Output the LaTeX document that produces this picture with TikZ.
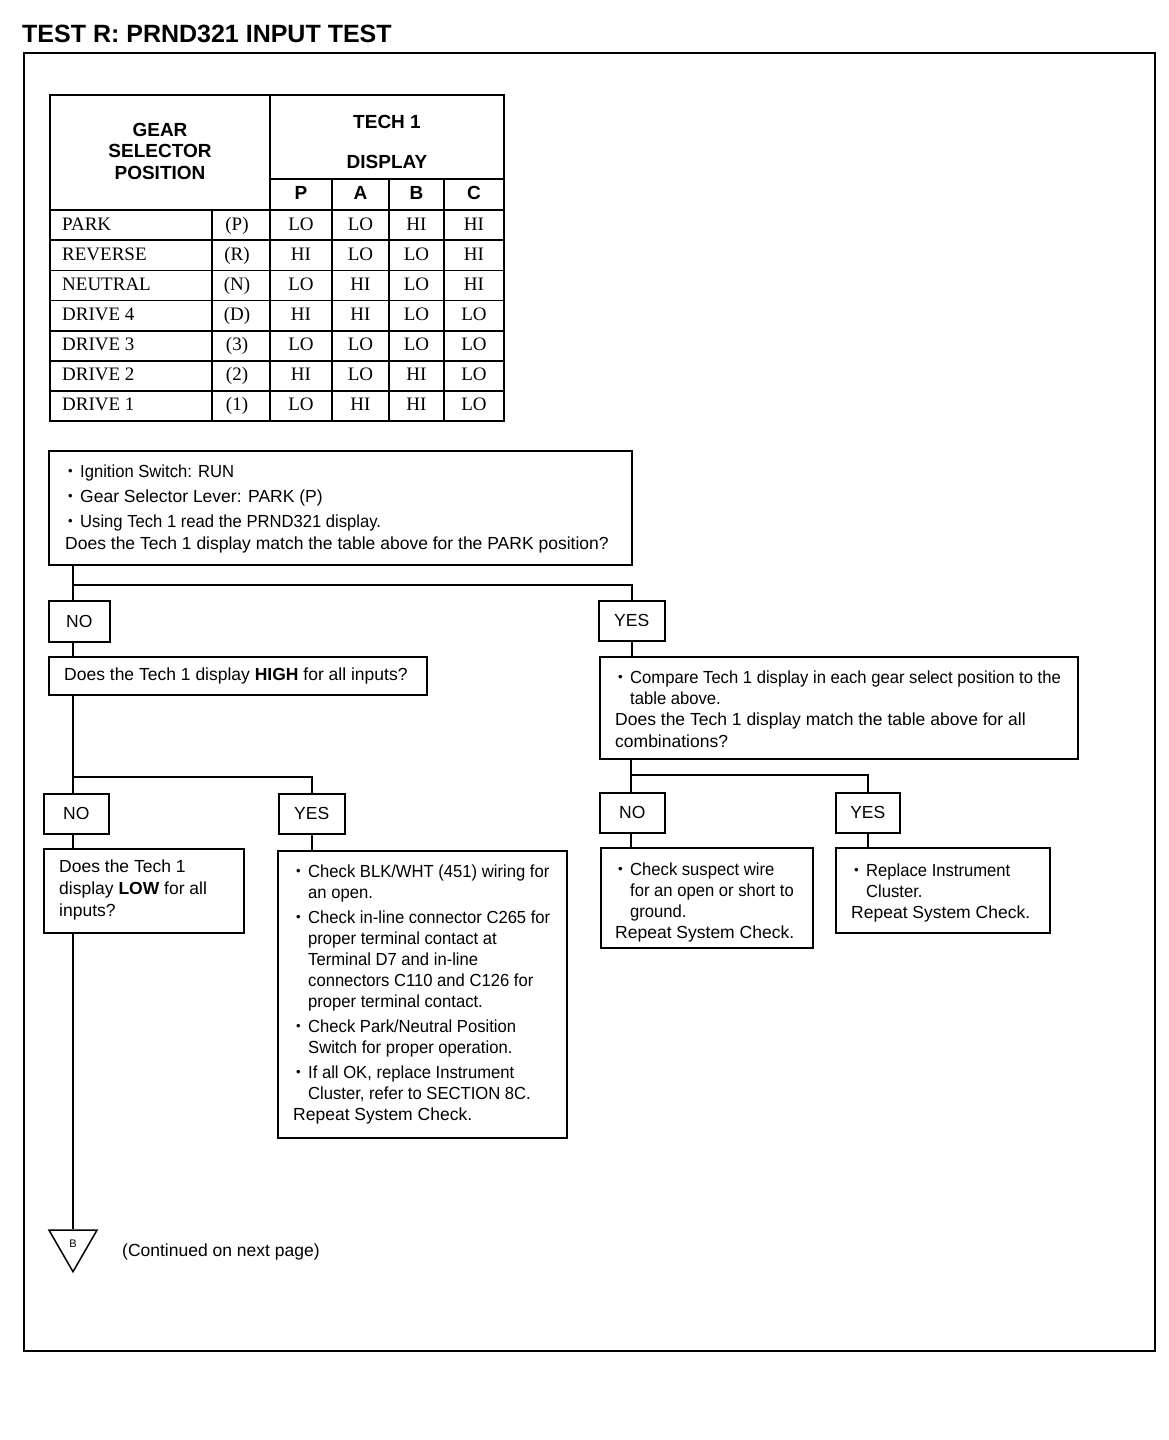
\documentclass[tikz,border=0pt]{standalone}
\usepackage{fontspec}
\setmainfont{Liberation Sans}
\newfontfamily\seriffont{Liberation Serif}
\usetikzlibrary{shapes.geometric}
\newcommand\mybul{\hspace*{3pt}\makebox[12pt][l]{\raisebox{1.5pt}{\scalebox{0.75}{\textbullet}}}}
\newcommand\hind{\hspace*{15pt}}
\newcommand\smtxt[1]{\scalebox{0.95}[1]{#1}}
\begin{document}
\begin{tikzpicture}[x=1pt,y=-1pt,
  box/.style={draw, line width=1.5pt, fill=white, inner sep=0pt, anchor=north west},
  lbl/.style={box, font=\fontsize{17.5}{21}\selectfont},
  txt/.style={anchor=north west, inner sep=0pt, align=left, font=\fontsize{17.5}{21}\selectfont},
  conn/.style={line width=1.5pt},
  cell/.style={anchor=base, inner sep=0pt, font=\seriffont\fontsize{19}{21}\selectfont},
  hdr/.style={anchor=base, inner sep=0pt, font=\bfseries\fontsize{19}{21}\selectfont},
  tline/.style={line width=1.5pt}]
\useasboundingbox (0,0) rectangle (1168,1440);
\fill[white] (0,0) rectangle (1168,1440);

% title and frame
\node[anchor=base west, inner sep=0pt, font=\bfseries\fontsize{25}{28}\selectfont] (title) at (22,42) {TEST R: PRND321 INPUT TEST};
\draw[line width=1.6pt] (24,53) rectangle (1155,1351);

% table
\draw[tline] (50,95) rectangle (504,421);
\draw[tline] (270,95) -- (270,421);
\draw[tline] (212,210) -- (212,421);
\draw[tline] (270,179) -- (504,179);
\foreach \x in {332,389,444} \draw[tline] (\x,179) -- (\x,421);
\foreach \y in {210,240,270.5,300.5,331,361,391} \draw[tline] (50,\y) -- (504,\y);
\node[hdr] (h1) at (160,136) {GEAR};
\node[hdr] (h2) at (160,157.7) {SELECTOR};
\node[hdr] (h3) at (160,179) {POSITION};
\node[hdr] (h4) at (387,128) {TECH 1};
\node[hdr] (h5) at (387,168) {DISPLAY};
\node[hdr] (cp) at (301,199) {P};
\node[hdr] (ca) at (360.5,199) {A};
\node[hdr] (cb) at (416.5,199) {B};
\node[hdr] (cc) at (474,199) {C};
\foreach \lab/\pp/\va/\vb/\vc/\vd [count=\i] in {
  PARK/(P)/LO/LO/HI/HI,
  REVERSE/(R)/HI/LO/LO/HI,
  NEUTRAL/(N)/LO/HI/LO/HI,
  DRIVE 4/(D)/HI/HI/LO/LO,
  DRIVE 3/(3)/LO/LO/LO/LO,
  DRIVE 2/(2)/HI/LO/HI/LO,
  DRIVE 1/(1)/LO/HI/HI/LO}{
  \pgfmathsetmacro\yy{230+30.1*(\i-1)}
  \node[cell, anchor=base west] (rl\i) at (62,\yy) {\lab};
  \node[cell] (rp\i) at (237,\yy) {\pp};
  \node[cell] (ra\i) at (301,\yy) {\va};
  \node[cell] (rb\i) at (360.5,\yy) {\vb};
  \node[cell] (rc\i) at (416.5,\yy) {\vc};
  \node[cell] (rd\i) at (474,\yy) {\vd};
}

% boxes
\node[box, minimum width=583pt, minimum height=114pt] (q1) at (48,450) {};
\node[txt] (tq1) at (65,464.5) {\mybul\smtxt{Ignition Switch: RUN}\\[4pt]
\mybul Gear Selector Lever: PARK (P)\\[4pt]
\mybul\smtxt{Using Tech 1 read the PRND321 display.}\\[1pt]
Does the Tech 1 display match the table above for the PARK position?};

\node[lbl, minimum width=61pt, minimum height=41pt] (no1) at (48,600) {NO};
\node[lbl, minimum width=66pt, minimum height=40pt] (yes1) at (598,600) {YES};

\node[box, minimum width=378pt, minimum height=38pt] (high) at (48,656) {};
\node[txt] (thigh) at (64,667.5) {Does the Tech 1 display \textbf{HIGH} for all inputs?};

\node[box, minimum width=478pt, minimum height=102pt] (comb) at (599,656) {};
\node[txt] (tcomb) at (615,670.5) {\mybul\smtxt{Compare Tech 1 display in each gear select position to the}\\
\hind\smtxt{table above.}\\
Does the Tech 1 display match the table above for all\\[1pt]
combinations?};

\node[lbl, minimum width=65pt, minimum height=40pt] (no2) at (43,793) {NO};
\node[lbl, minimum width=66pt, minimum height=40pt] (yes2) at (278,793) {YES};
\node[lbl, minimum width=65pt, minimum height=40pt] (no3) at (599,792) {NO};
\node[lbl, minimum width=64pt, minimum height=40pt] (yes3) at (835,792) {YES};

\node[box, minimum width=200pt, minimum height=84pt] (low) at (43,848) {};
\node[txt] (tlow) at (59,859.5) {Does the Tech 1\\[1pt] display \textbf{LOW} for all\\[1pt] inputs?};

\node[box, minimum width=289pt, minimum height=287pt] (big) at (277,850) {};
\node[txt] (tbig) at (293,864.5) {\mybul\smtxt{Check BLK/WHT (451) wiring for}\\
\hind\smtxt{an open.}\\[4pt]
\mybul\smtxt{Check in-line connector C265 for}\\
\hind\smtxt{proper terminal contact at}\\
\hind\smtxt{Terminal D7 and in-line}\\
\hind\smtxt{connectors C110 and C126 for}\\
\hind\smtxt{proper terminal contact.}\\[4pt]
\mybul\smtxt{Check Park/Neutral Position}\\
\hind\smtxt{Switch for proper operation.}\\[4pt]
\mybul\smtxt{If all OK, replace Instrument}\\
\hind\smtxt{Cluster, refer to SECTION 8C.}\\
Repeat System Check.};

\node[box, minimum width=212pt, minimum height=100pt] (chk) at (600,847) {};
\node[txt] (tchk) at (615,862.5) {\mybul\smtxt{Check suspect wire}\\
\hind\smtxt{for an open or short to}\\
\hind\smtxt{ground.}\\
Repeat System Check.};

\node[box, minimum width=214pt, minimum height=85pt] (rep) at (835,847) {};
\node[txt] (trep) at (851,863.5) {\mybul\smtxt{Replace Instrument}\\
\hind\smtxt{Cluster.}\\
Repeat System Check.};

% off-page connector
\node[draw, line width=1.5pt, fill=white, regular polygon, regular polygon sides=3, shape border rotate=180, minimum size=55.4pt, inner sep=0pt, font=\fontsize{11}{12}\selectfont] (tri) at (73,1244) {B};
\node[anchor=base west, inner sep=0pt, font=\fontsize{17.5}{21}\selectfont] (cont) at (122,1256) {(Continued on next page)};

% connectors
\coordinate (j1) at (73,585);
\coordinate (j2) at (73,777);
\coordinate (j3) at (631,775);
\draw[conn] (j1 |- q1.south) -- (j1 |- no1.north);
\draw[conn] (j1) -| (yes1.north);
\draw[conn] (j1 |- no1.south) -- (j1 |- high.north);
\draw[conn] (yes1.south) -- (yes1.south |- comb.north);
\draw[conn] (j2 |- high.south) -- (j2 |- no2.north);
\draw[conn] (j2) -| (yes2.north);
\draw[conn] (j2 |- no2.south) -- (j2 |- low.north);
\draw[conn] (tri.north |- low.south) -- (tri.north);
\draw[conn] (yes2.south) -- (yes2.south |- big.north);
\draw[conn] (j3 |- comb.south) -- (j3 |- no3.north);
\draw[conn] (j3) -| (yes3.north);
\draw[conn] (j3 |- no3.south) -- (j3 |- chk.north);
\draw[conn] (yes3.south) -- (yes3.south |- rep.north);
\end{tikzpicture}
\end{document}
